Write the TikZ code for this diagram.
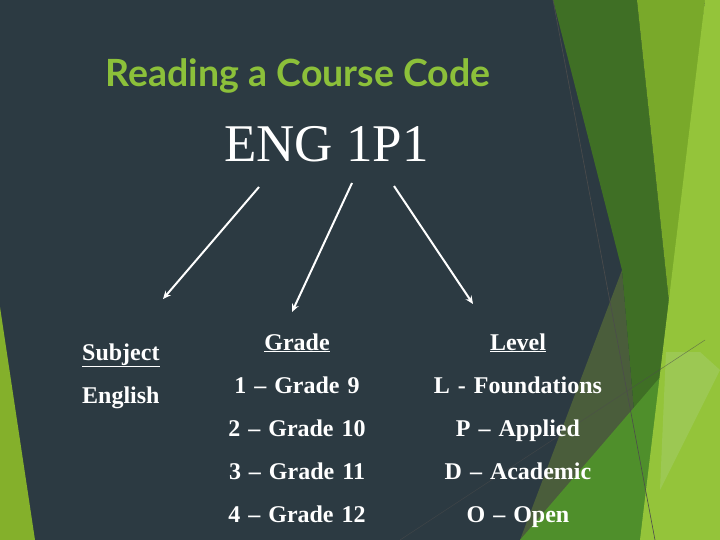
\documentclass[tikz,border=0pt]{standalone}
\usepackage{fontspec}
\setmainfont{Liberation Serif}
\newfontfamily\titlefont{Lato}
\usepackage{tikz}
\usetikzlibrary{matrix,arrows.meta}
\definecolor{slate}{HTML}{2C3A42}
\definecolor{stripgreen}{HTML}{84B02B}
\definecolor{olive}{HTML}{4A5D3B}
\definecolor{deepgreen}{HTML}{3F6F25}
\definecolor{midgreen}{HTML}{79A92A}
\definecolor{grassgreen}{HTML}{4F8F2B}
\definecolor{lime}{HTML}{94C43A}
\definecolor{palegreen}{HTML}{A0CB5E}
\definecolor{titlegreen}{HTML}{8CC03A}

\begin{document}
\begin{tikzpicture}[x=1pt,y=-1pt,
	item/.style={text=white,font=\fontsize{24}{24}\selectfont\bfseries,inner sep=0pt},
	pointer/.style={white,line width=2pt,-{Stealth[length=8pt,width=7pt]}},
	]
	% background and facets
	\useasboundingbox (0,0) rectangle (720,540);
	\fill[slate] (0,0) rectangle (720,540);
	\fill[stripgreen] (0,307) -- (35,540) -- (0,540) -- cycle;
	\fill[olive] (622,270) -- (520,540) -- (645,540) -- cycle;
	\fill[deepgreen] (553,0) -- (637,0) -- (672,330) -- (668,540) -- (645,540) -- (622,270) -- cycle;
	\fill[midgreen] (637,0) -- (705,0) -- (672,330) -- cycle;
	\fill[grassgreen] (520,540) -- (668,368) -- (668,540) -- cycle;
	\fill[lime] (705,0) -- (720,0) -- (720,540) -- (640,540) -- cycle;
	\fill[palegreen,opacity=0.7] (666,352) -- (700,352) -- (720,370) -- (660,490) -- cycle;
	\draw[black!70,line width=0.6pt] (553,0) -- (655,540);
	\draw[black!70,line width=0.5pt,opacity=0.6] (400,540) -- (705,340);

	% title and code
	\node[text=titlegreen,font=\titlefont\bfseries\fontsize{37.5}{37.5}\selectfont,anchor=base] (title) at (298,87) {Reading a Course Code};
	\node[text=white,font=\fontsize{53}{53}\selectfont,anchor=base] (code) at (326.5,162) {ENG 1P1};

	% arrows
	\coordinate (s1) at (259,187);
	\coordinate (e1) at (163,299);
	\coordinate (s2) at (352,183);
	\coordinate (e2) at (292,312);
	\coordinate (s3) at (394,186);
	\coordinate (e3) at (473,304);
	\draw[pointer] (s1) -- (e1);
	\draw[pointer] (s2) -- (e2);
	\draw[pointer] (s3) -- (e3);

	% subject column
	\node[item,anchor=base west] (subject) at (82,360) {\underline{Subject}};
	\node[item,anchor=base west] (english) at (82,403) {English};

	% grade and level columns
	\matrix [matrix of nodes,row sep=20pt,column sep=61pt,
	nodes={item,text height=17pt,text depth=6pt},
	column 1/.style={nodes={text width=140pt,align=center}},
	column 2/.style={nodes={text width=180pt,align=center}},
	] (codes) at (417.5,430.5)
	{
	\underline{Grade} & \underline{Level}\\
	1 – Grade 9 & L - Foundations\\
	2 – Grade 10 & P – Applied\\
	3 – Grade 11 & D – Academic\\
	4 – Grade 12 & O – Open\\
	};
\end{tikzpicture}
\end{document}
